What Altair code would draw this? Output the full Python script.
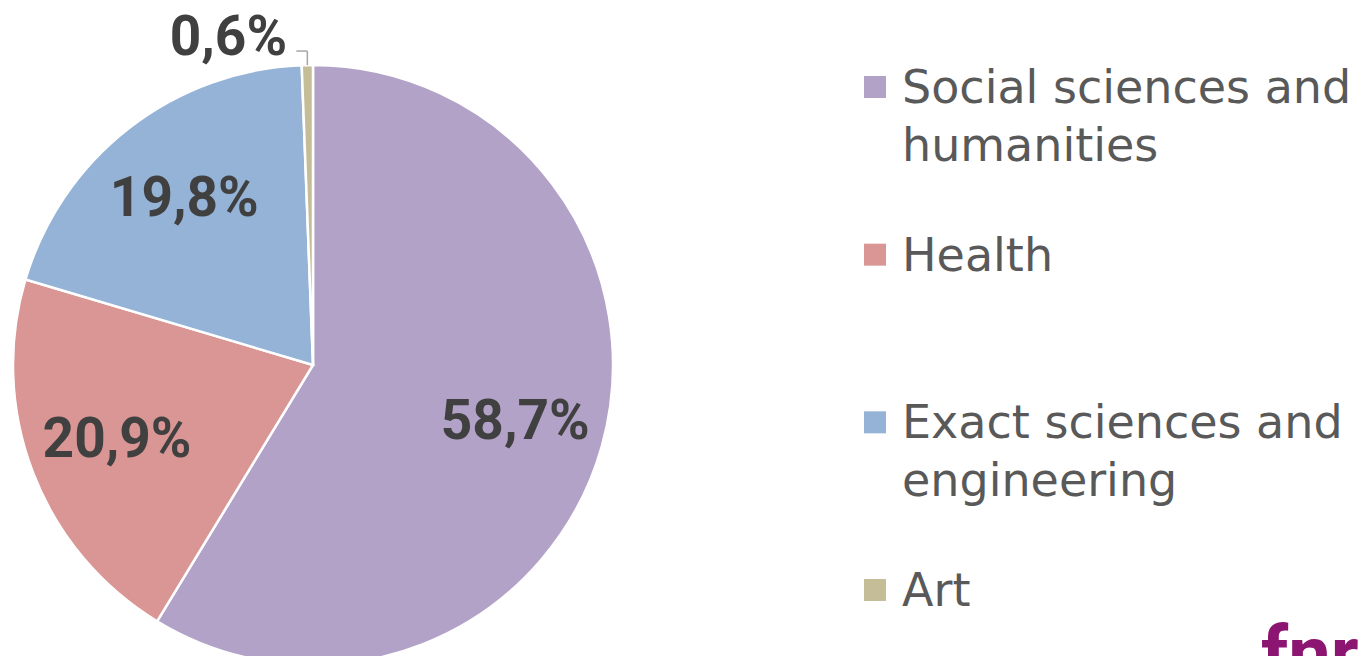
import math
import altair as alt
import pandas as pd

# ---- data ----
categories = ["Social sciences and humanities", "Health",
              "Exact sciences and engineering", "Art"]
values = [58.7, 20.9, 19.8, 0.6]
legend_labels = ["Social sciences and\nhumanities", "Health",
                 "Exact sciences and\nengineering", "Art"]
colors = ["#B2A2C7", "#D99694", "#95B3D7", "#C4BD97"]

pct_labels = [f"{v:.1f}".replace(".", ",") + "%" for v in values]

df = pd.DataFrame({
    "cat": categories,
    "value": values,
    "order": list(range(len(categories))),
    "label": pct_labels,
    "legend": legend_labels,
})

# ---- layout constants ----
W, H = 1355, 648
CX, CY, R = 305, 357, 300
LABEL_R = 210
SMALL_OFF = 14

color = alt.Color("cat:N", scale=alt.Scale(domain=categories, range=colors), legend=None)
theta = alt.Theta("value:Q", stack=True)
order = alt.Order("order:Q")

base = alt.Chart(df)

arcs = base.mark_arc(outerRadius=R, stroke="white", strokeWidth=2.5).encode(
    theta=theta, order=order, color=color,
    x=alt.value(CX), y=alt.value(CY),
)

big_labels = base.mark_text(
    radius=LABEL_R, font="Roboto", fontWeight="bold", fontSize=55,
    color="#404040", align="center", baseline="middle",
).encode(
    theta=theta, order=order,
    text=alt.condition("datum.value >= 5", alt.Text("label:N"), alt.value("")),
    x=alt.value(CX), y=alt.value(CY),
)

small_labels = base.mark_text(
    radius=R + SMALL_OFF, font="Roboto", fontWeight="bold", fontSize=55,
    color="#404040", align="right", baseline="middle", dx=-20, dy=-13,
).encode(
    theta=theta, order=order,
    text=alt.condition("datum.value < 5", alt.Text("label:N"), alt.value("")),
    x=alt.value(CX), y=alt.value(CY),
)

# leader line for the small slice, derived from its angle
total = sum(values)
mid = (sum(values[:3]) + values[3] / 2) / total * 2 * math.pi
ex = CX + R * math.sin(mid)
ey = CY - R * math.cos(mid)
lead_v = alt.Chart(df.head(1)).mark_rule(color="#A6A6A6", strokeWidth=1.5).encode(
    x=alt.value(ex), y=alt.value(ey), y2=alt.value(ey - SMALL_OFF))
lead_h = alt.Chart(df.head(1)).mark_rule(color="#A6A6A6", strokeWidth=1.5).encode(
    x=alt.value(ex), x2=alt.value(ex - 11), y=alt.value(ey - SMALL_OFF))

# legend
ly = alt.Y("cat:N", scale=alt.Scale(type="point", domain=categories,
                                    range=[79, 582], padding=0), axis=None)
leg_sq = base.mark_square(size=484, opacity=1).encode(
    y=ly, x=alt.value(867), color=color)
leg_txt = base.mark_text(
    align="left", baseline="alphabetic", dy=16, fontSize=46,
    font="DejaVu Sans", color="#595959", lineBreak="\n", lineHeight=58,
).encode(y=ly, x=alt.value(894), text="legend:N")

logo = alt.Chart(df.head(1)).mark_text(
    text="fnr", font="Roboto", fontWeight="bold", fontSize=76,
    color="#8C1572", align="left", baseline="top",
).encode(x=alt.value(1253), y=alt.value(612))

chart = alt.layer(arcs, big_labels, small_labels, lead_v, lead_h,
                  leg_sq, leg_txt, logo).properties(
    width=W, height=H, padding=0,
    autosize=alt.AutoSizeParams(type="none"),
).configure_view(stroke=None)

chart.save("out.html", embed_options={"renderer": "svg", "actions": False})
